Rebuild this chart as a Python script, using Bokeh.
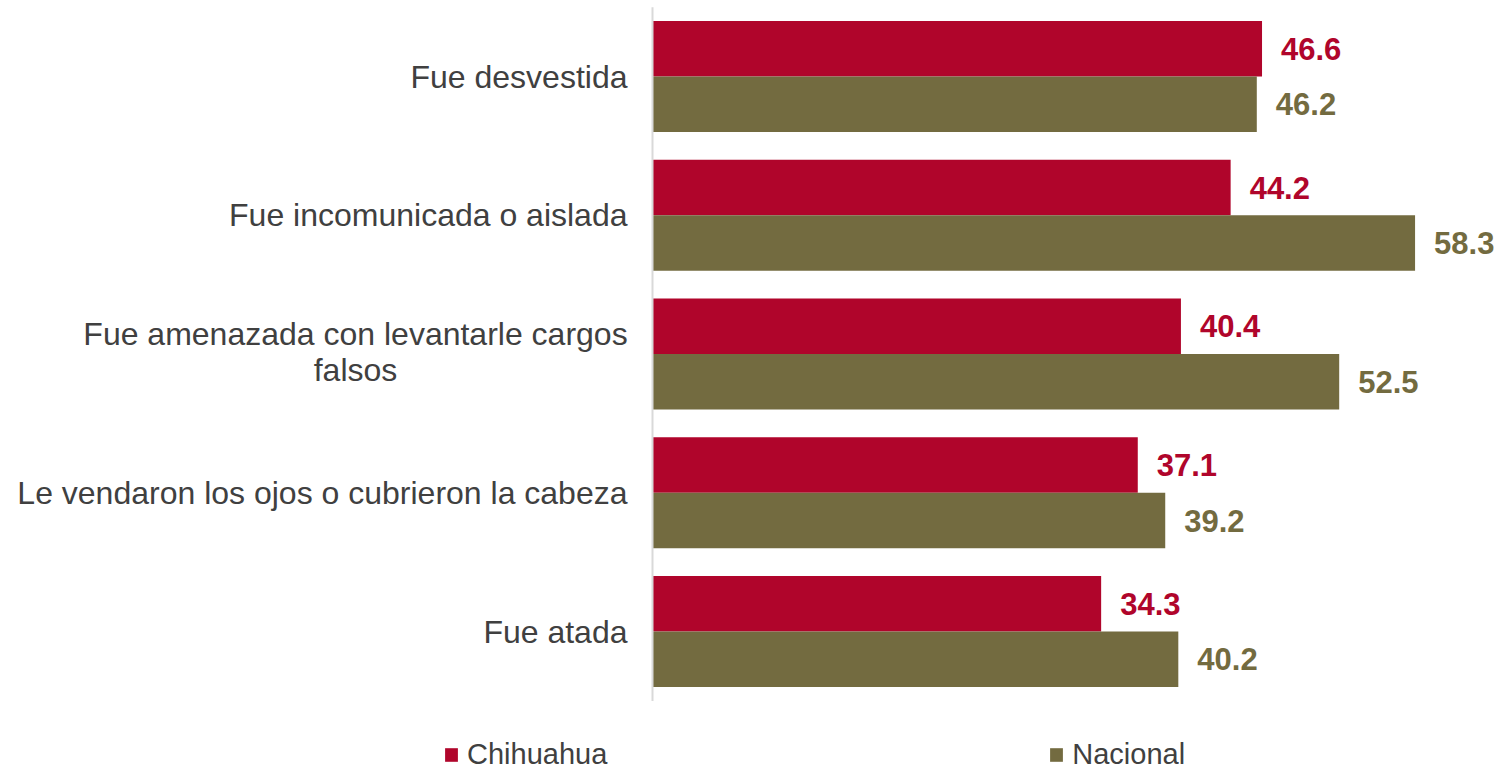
from bokeh.plotting import figure
from bokeh.models import ColumnDataSource, Legend, LegendItem, Range1d
from bokeh.transform import dodge
from bokeh.core.properties import value
from bokeh.embed import file_html
from bokeh.resources import INLINE

categories = [
    "Fue desvestida",
    "Fue incomunicada o aislada",
    "Fue amenazada con levantarle cargos\nfalsos",
    "Le vendaron los ojos o cubrieron la cabeza",
    "Fue atada",
]
chihuahua = [46.6, 44.2, 40.4, 37.1, 34.3]
nacional = [46.2, 58.3, 52.5, 39.2, 40.2]
series_names = ["Chihuahua", "Nacional"]

RED = "#B0052B"
OLIVE = "#736B40"
FONT = "Liberation Sans"
TXT = "#404040"

n = len(categories)
pos = list(range(n))  # 0 = top category

src = ColumnDataSource(dict(
    pos=pos,
    cat=categories,
    chihuahua=chihuahua,
    nacional=nacional,
    chihuahua_lbl=[f"{v:.1f}" for v in chihuahua],
    nacional_lbl=[f"{v:.1f}" for v in nacional],
))
single = [i for i, c in enumerate(categories) if "\n" not in c]
wrapped = [i for i, c in enumerate(categories) if "\n" in c]
src_single = ColumnDataSource(dict(pos=[pos[i] for i in single], cat=[categories[i] for i in single]))
src_wrapped = ColumnDataSource(dict(pos=[pos[i] for i in wrapped], cat=[categories[i] for i in wrapped]))
axis_src = ColumnDataSource(dict(x=[0], y0=[pos[0] - 0.5], y1=[pos[-1] + 0.5]))

W, H = 1494, 769
PX_PER_UNIT = 13.08
AXIS_PX = 652
GROUP_PX = 138.75
FIRST_CENTER_PX = 76

p = figure(
    width=W, height=H,
    x_range=Range1d(-AXIS_PX / PX_PER_UNIT, (W - AXIS_PX) / PX_PER_UNIT),
    y_range=Range1d((H - FIRST_CENTER_PX) / GROUP_PX, -FIRST_CENTER_PX / GROUP_PX),
    output_backend="svg", toolbar_location=None,
    min_border_left=0, min_border_right=0, min_border_top=0, min_border_bottom=0,
)
p.axis.visible = False
p.grid.visible = False
p.outline_line_color = None

r1 = p.hbar(y=dodge("pos", -0.2), left=0, right="chihuahua", height=0.4,
            source=src, fill_color=RED, line_color=None)
r2 = p.hbar(y=dodge("pos", 0.2), left=0, right="nacional", height=0.4,
            source=src, fill_color=OLIVE, line_color=None)

# vertical category axis line
p.segment(x0="x", y0="y0", x1="x", y1="y1", source=axis_src, line_color="#D9D9D9", line_width=2)

# value labels
p.text(x="chihuahua", y=dodge("pos", -0.2), text="chihuahua_lbl", source=src,
       x_offset=19, text_baseline="middle", text_align="left",
       text_font=value(FONT), text_font_style="bold", text_font_size="31px", text_color=RED)
p.text(x="nacional", y=dodge("pos", 0.2), text="nacional_lbl", source=src,
       x_offset=19, text_baseline="middle", text_align="left",
       text_font=value(FONT), text_font_style="bold", text_font_size="31px", text_color=OLIVE)

# category labels
p.text(x=0, y="pos", text="cat", source=src_single,
       x_offset=-25, text_baseline="middle", text_align="right",
       text_font=value(FONT), text_font_size="32px", text_color=TXT)
p.text(x=0, y="pos", text="cat", source=src_wrapped,
       x_offset=-297, y_offset=-2, text_baseline="middle", text_align="center",
       text_line_height=1.0,
       text_font=value(FONT), text_font_size="32px", text_color=TXT)

legend = Legend(items=[LegendItem(label=series_names[0], renderers=[r1]),
                       LegendItem(label=series_names[1], renderers=[r2])],
                orientation="horizontal", location=(443, -2))
legend.spacing = 441
legend.glyph_width = 16
legend.glyph_height = 17
legend.label_standoff = 8
legend.padding = 0
legend.margin = 0
legend.border_line_color = None
legend.background_fill_alpha = 0
legend.label_text_font = FONT
legend.label_text_font_size = "29px"
legend.label_text_color = TXT
p.add_layout(legend, "center")

open("out.html", "w").write(file_html(p, INLINE))
